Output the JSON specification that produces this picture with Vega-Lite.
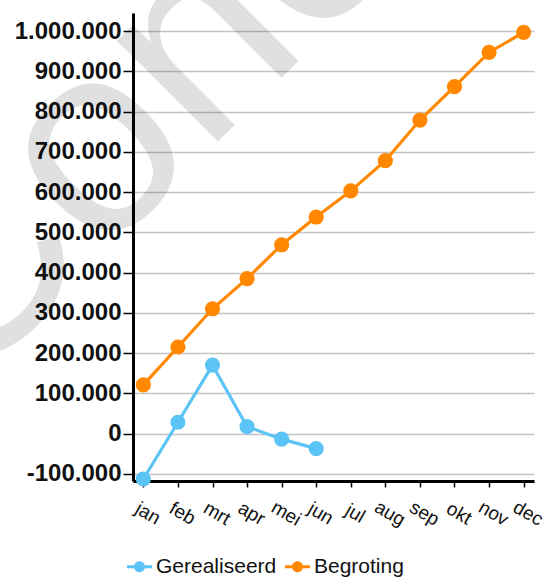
{
  "$schema": "https://vega.github.io/schema/vega-lite/v6.json",
  "width": 401,
  "height": 468,
  "autosize": {"type": "none"},
  "padding": {"left": 133, "top": 13, "right": 13, "bottom": 98},
  "background": "white",
  "config": {
    "locale": {"number": {"decimal": ",", "thousands": ".", "grouping": [3], "currency": ["€ ", ""], "minus": "-"}},
    "view": {"stroke": null}
  },
  "datasets": {
    "series": [
      {"month": "jan", "series": "Gerealiseerd", "value": -113000},
      {"month": "feb", "series": "Gerealiseerd", "value": 28000},
      {"month": "mrt", "series": "Gerealiseerd", "value": 170000},
      {"month": "apr", "series": "Gerealiseerd", "value": 17000},
      {"month": "mei", "series": "Gerealiseerd", "value": -14000},
      {"month": "jun", "series": "Gerealiseerd", "value": -37500},
      {"month": "jan", "series": "Begroting", "value": 121000},
      {"month": "feb", "series": "Begroting", "value": 215000},
      {"month": "mrt", "series": "Begroting", "value": 310000},
      {"month": "apr", "series": "Begroting", "value": 385000},
      {"month": "mei", "series": "Begroting", "value": 469000},
      {"month": "jun", "series": "Begroting", "value": 538000},
      {"month": "jul", "series": "Begroting", "value": 603000},
      {"month": "aug", "series": "Begroting", "value": 678000},
      {"month": "sep", "series": "Begroting", "value": 779000},
      {"month": "okt", "series": "Begroting", "value": 862000},
      {"month": "nov", "series": "Begroting", "value": 947000},
      {"month": "dec", "series": "Begroting", "value": 997000}
    ],
    "watermark": [
      {"month": "jun", "value": 970000, "label": "Concept"}
    ]
  },
  "layer": [
    {
      "data": {"name": "watermark"},
      "mark": {"type": "text", "angle": -45, "font": "Liberation Sans", "fontSize": 270, "align": "center", "baseline": "alphabetic", "fill": "#000000", "fillOpacity": 0.12},
      "encoding": {
        "text": {"field": "label", "type": "nominal"},
        "x": {"field": "month", "type": "ordinal"},
        "y": {"field": "value", "type": "quantitative"}
      }
    },
    {
      "data": {"name": "series"},
      "mark": {"type": "line", "strokeWidth": 3.2},
      "encoding": {
        "x": {"field": "month", "type": "ordinal"},
        "y": {"field": "value", "type": "quantitative"},
        "color": {"field": "series", "type": "nominal"},
        "order": {"value": null}
      }
    },
    {
      "data": {"name": "series"},
      "mark": {"type": "point", "filled": true, "size": 230, "opacity": 1},
      "encoding": {
        "x": {"field": "month", "type": "ordinal"},
        "y": {"field": "value", "type": "quantitative"},
        "color": {"field": "series", "type": "nominal"}
      }
    }
  ],
  "encoding": {
    "x": {
      "field": "month",
      "type": "ordinal",
      "scale": {"type": "point", "domain": ["jan", "feb", "mrt", "apr", "mei", "jun", "jul", "aug", "sep", "okt", "nov", "dec"], "padding": 0.3},
      "axis": {
        "title": null, "grid": false,
        "domainColor": "#000000", "domainWidth": 3,
        "tickColor": "#000000", "tickWidth": 1.5, "tickSize": 6,
        "labelAngle": 30, "labelAlign": "center", "labelBaseline": "middle",
        "labelPadding": 26, "labelOffset": 4,
        "labelFont": "Liberation Sans", "labelFontSize": 19, "labelColor": "#111111",
        "labelOverlap": false, "labelBound": false
      }
    },
    "y": {
      "field": "value",
      "type": "quantitative",
      "scale": {"domain": [-118000, 1045000], "nice": false, "zero": false},
      "axis": {
        "title": null,
        "values": [-100000, 0, 100000, 200000, 300000, 400000, 500000, 600000, 700000, 800000, 900000, 1000000],
        "format": ",d",
        "grid": true, "gridColor": "#c4c4c4", "gridWidth": 1.5,
        "domainColor": "#000000", "domainWidth": 3,
        "tickColor": "#000000", "tickWidth": 1.5, "tickSize": 10,
        "labelFont": "Liberation Sans", "labelFontWeight": "bold", "labelFontSize": 24, "labelColor": "#111111",
        "labelPadding": 2
      }
    },
    "color": {
      "field": "series",
      "type": "nominal",
      "scale": {"domain": ["Gerealiseerd", "Begroting"], "range": ["#5BC3F5", "#FF8800"]},
      "legend": {
        "orient": "none", "legendX": -6, "legendY": 541, "direction": "horizontal",
        "title": null,
        "labelFont": "Liberation Sans", "labelFontSize": 21, "labelColor": "#111111", "labelOffset": 4,
        "columnPadding": 8,
        "symbolType": "M-1,-0.12L1,-0.12L1,0.12L-1,0.12Z M-0.44,0A0.44,0.44,0,1,1,0.44,0A0.44,0.44,0,1,1,-0.44,0Z",
        "symbolSize": 625, "symbolStrokeWidth": 0, "symbolOpacity": 1,
        "encode": {"symbols": {"update": {"fill": {"scale": "color", "field": "value"}, "strokeWidth": {"value": 0}}}}
      }
    }
  }
}
